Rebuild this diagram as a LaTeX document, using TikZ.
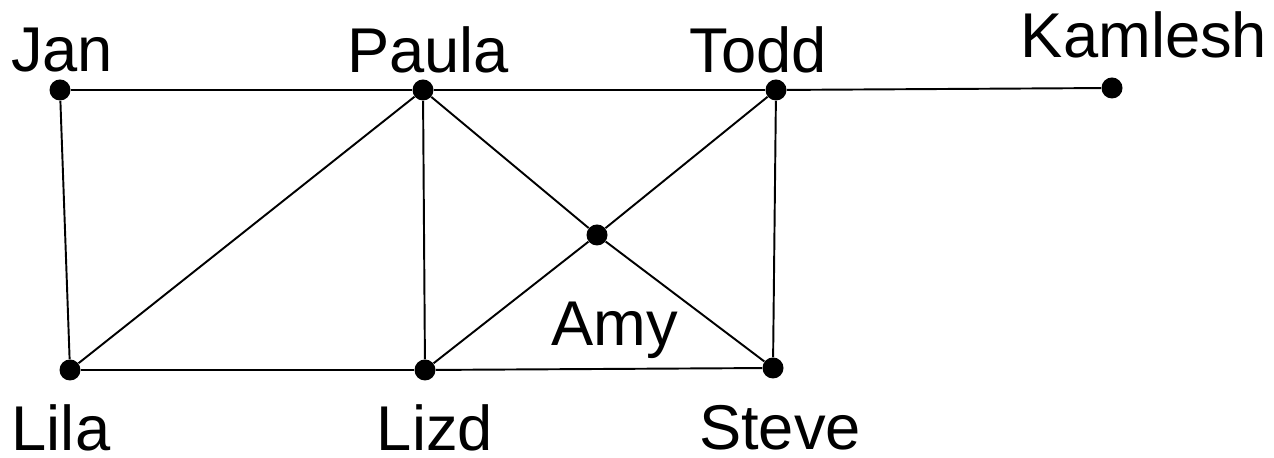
\documentclass[tikz,border=0pt]{standalone}
\usepackage{fontspec}
\setmainfont{Liberation Sans}
\usetikzlibrary{positioning}

\begin{document}
\begin{tikzpicture}[
    vertex/.style={circle, fill=black, inner sep=0pt, minimum size=0.42cm},
    personlbl/.style={font=\fontsize{36}{42}\selectfont, inner sep=0pt},
    edge/.style={line width=1.1pt}
]
    \useasboundingbox (0,0) rectangle (25.48,9.16);

    % Vertices
    \node[vertex] (jan) at (1.2,7.36) {};
    \node[vertex] (paula) at (8.46,7.36) {};
    \node[vertex] (todd) at (15.52,7.36) {};
    \node[vertex] (kamlesh) at (22.24,7.40) {};
    \node[vertex] (amy) at (11.94,4.46) {};
    \node[vertex] (lila) at (1.4,1.76) {};
    \node[vertex] (lizd) at (8.5,1.76) {};
    \node[vertex] (steve) at (15.46,1.80) {};

    % Names
    \node[personlbl] (janlbl) at (1.24,8.16) {Jan};
    \node[personlbl] (paulalbl) at (8.56,8.16) {Paula};
    \node[personlbl] (toddlbl) at (15.16,8.16) {Todd};
    \node[personlbl] (kamleshlbl) at (22.88,8.46) {Kamlesh};
    \node[personlbl] (amylbl) at (12.3,2.56) {Amy};
    \node[personlbl] (lilalbl) at (1.22,0.6) {Lila};
    \node[personlbl] (lizdlbl) at (8.7,0.6) {Lizd};
    \node[personlbl] (stevelbl) at (15.6,0.6) {Steve};

    % Edges
    \draw[edge] (jan) -- (paula);
    \draw[edge] (paula) -- (todd);
    \draw[edge] (todd) -- (kamlesh);
    \draw[edge] (jan) -- (lila);
    \draw[edge] (lila) -- (paula);
    \draw[edge] (paula) -- (lizd);
    \draw[edge] (paula) -- (amy);
    \draw[edge] (amy) -- (steve);
    \draw[edge] (todd) -- (amy);
    \draw[edge] (amy) -- (lizd);
    \draw[edge] (todd) -- (steve);
    \draw[edge] (lila) -- (lizd);
    \draw[edge] (lizd) -- (steve);
\end{tikzpicture}
\end{document}
